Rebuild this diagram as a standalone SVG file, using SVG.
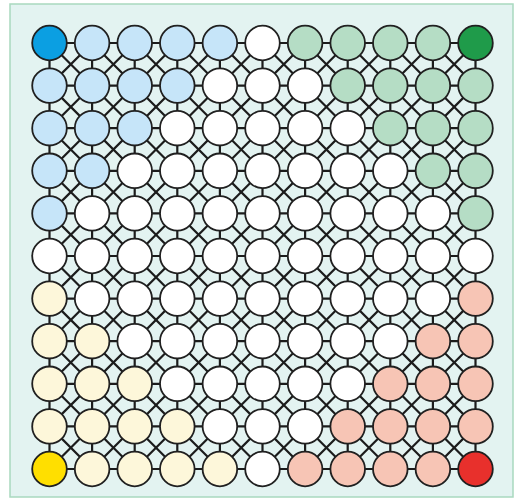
<svg xmlns="http://www.w3.org/2000/svg" width="523" height="504" viewBox="0 0 523 504">
<style>
.frame{fill:#e3f3f1;stroke:#a9d9bf;stroke-width:1.5}
.conn{fill:none;stroke:#1c1c1c;stroke-width:2.2}
circle{stroke:#202020;stroke-width:1.8}
.db{fill:#0b9fe2}.lb{fill:#c6e5f9}.dg{fill:#1f9b4a}.lg{fill:#b5ddc5}
.dy{fill:#ffdf00}.ly{fill:#fdf7da}.dr{fill:#e8302c}.lr{fill:#f7c5b5}.w{fill:#ffffff}
</style>
<rect class="frame" x="10" y="4" width="503" height="493"/>
<g id="connectors" class="conn">
<path d="M49.5 43H475.5M49.5 85.6H475.5M49.5 128.2H475.5M49.5 170.8H475.5M49.5 213.4H475.5M49.5 256H475.5M49.5 298.6H475.5M49.5 341.2H475.5M49.5 383.8H475.5M49.5 426.4H475.5M49.5 469H475.5"/>
<path d="M49.5 43V469M92.1 43V469M134.7 43V469M177.3 43V469M219.9 43V469M262.5 43V469M305.1 43V469M347.7 43V469M390.3 43V469M432.9 43V469M475.5 43V469"/>
<path d="M49.5 43L475.5 469M92.1 43L475.5 426.4M134.7 43L475.5 383.8M177.3 43L475.5 341.2M219.9 43L475.5 298.6M262.5 43L475.5 256M305.1 43L475.5 213.4M347.7 43L475.5 170.8M390.3 43L475.5 128.2M432.9 43L475.5 85.6M49.5 85.6L432.9 469M49.5 128.2L390.3 469M49.5 170.8L347.7 469M49.5 213.4L305.1 469M49.5 256L262.5 469M49.5 298.6L219.9 469M49.5 341.2L177.3 469M49.5 383.8L134.7 469M49.5 426.4L92.1 469"/>
<path d="M92.1 43L49.5 85.6M134.7 43L49.5 128.2M177.3 43L49.5 170.8M219.9 43L49.5 213.4M262.5 43L49.5 256M305.1 43L49.5 298.6M347.7 43L49.5 341.2M390.3 43L49.5 383.8M432.9 43L49.5 426.4M475.5 43L49.5 469M475.5 85.6L92.1 469M475.5 128.2L134.7 469M475.5 170.8L177.3 469M475.5 213.4L219.9 469M475.5 256L262.5 469M475.5 298.6L305.1 469M475.5 341.2L347.7 469M475.5 383.8L390.3 469M475.5 426.4L432.9 469"/>
</g>
<g id="nodes">
<g id="n0-0"><circle class="db" cx="49.5" cy="43" r="17.3"/></g>
<g id="n0-1"><circle class="lb" cx="92.1" cy="43" r="17.3"/></g>
<g id="n0-2"><circle class="lb" cx="134.7" cy="43" r="17.3"/></g>
<g id="n0-3"><circle class="lb" cx="177.3" cy="43" r="17.3"/></g>
<g id="n0-4"><circle class="lb" cx="219.9" cy="43" r="17.3"/></g>
<g id="n0-5"><circle class="w" cx="262.5" cy="43" r="17.3"/></g>
<g id="n0-6"><circle class="lg" cx="305.1" cy="43" r="17.3"/></g>
<g id="n0-7"><circle class="lg" cx="347.7" cy="43" r="17.3"/></g>
<g id="n0-8"><circle class="lg" cx="390.3" cy="43" r="17.3"/></g>
<g id="n0-9"><circle class="lg" cx="432.9" cy="43" r="17.3"/></g>
<g id="n0-10"><circle class="dg" cx="475.5" cy="43" r="17.3"/></g>
<g id="n1-0"><circle class="lb" cx="49.5" cy="85.6" r="17.3"/></g>
<g id="n1-1"><circle class="lb" cx="92.1" cy="85.6" r="17.3"/></g>
<g id="n1-2"><circle class="lb" cx="134.7" cy="85.6" r="17.3"/></g>
<g id="n1-3"><circle class="lb" cx="177.3" cy="85.6" r="17.3"/></g>
<g id="n1-4"><circle class="w" cx="219.9" cy="85.6" r="17.3"/></g>
<g id="n1-5"><circle class="w" cx="262.5" cy="85.6" r="17.3"/></g>
<g id="n1-6"><circle class="w" cx="305.1" cy="85.6" r="17.3"/></g>
<g id="n1-7"><circle class="lg" cx="347.7" cy="85.6" r="17.3"/></g>
<g id="n1-8"><circle class="lg" cx="390.3" cy="85.6" r="17.3"/></g>
<g id="n1-9"><circle class="lg" cx="432.9" cy="85.6" r="17.3"/></g>
<g id="n1-10"><circle class="lg" cx="475.5" cy="85.6" r="17.3"/></g>
<g id="n2-0"><circle class="lb" cx="49.5" cy="128.2" r="17.3"/></g>
<g id="n2-1"><circle class="lb" cx="92.1" cy="128.2" r="17.3"/></g>
<g id="n2-2"><circle class="lb" cx="134.7" cy="128.2" r="17.3"/></g>
<g id="n2-3"><circle class="w" cx="177.3" cy="128.2" r="17.3"/></g>
<g id="n2-4"><circle class="w" cx="219.9" cy="128.2" r="17.3"/></g>
<g id="n2-5"><circle class="w" cx="262.5" cy="128.2" r="17.3"/></g>
<g id="n2-6"><circle class="w" cx="305.1" cy="128.2" r="17.3"/></g>
<g id="n2-7"><circle class="w" cx="347.7" cy="128.2" r="17.3"/></g>
<g id="n2-8"><circle class="lg" cx="390.3" cy="128.2" r="17.3"/></g>
<g id="n2-9"><circle class="lg" cx="432.9" cy="128.2" r="17.3"/></g>
<g id="n2-10"><circle class="lg" cx="475.5" cy="128.2" r="17.3"/></g>
<g id="n3-0"><circle class="lb" cx="49.5" cy="170.8" r="17.3"/></g>
<g id="n3-1"><circle class="lb" cx="92.1" cy="170.8" r="17.3"/></g>
<g id="n3-2"><circle class="w" cx="134.7" cy="170.8" r="17.3"/></g>
<g id="n3-3"><circle class="w" cx="177.3" cy="170.8" r="17.3"/></g>
<g id="n3-4"><circle class="w" cx="219.9" cy="170.8" r="17.3"/></g>
<g id="n3-5"><circle class="w" cx="262.5" cy="170.8" r="17.3"/></g>
<g id="n3-6"><circle class="w" cx="305.1" cy="170.8" r="17.3"/></g>
<g id="n3-7"><circle class="w" cx="347.7" cy="170.8" r="17.3"/></g>
<g id="n3-8"><circle class="w" cx="390.3" cy="170.8" r="17.3"/></g>
<g id="n3-9"><circle class="lg" cx="432.9" cy="170.8" r="17.3"/></g>
<g id="n3-10"><circle class="lg" cx="475.5" cy="170.8" r="17.3"/></g>
<g id="n4-0"><circle class="lb" cx="49.5" cy="213.4" r="17.3"/></g>
<g id="n4-1"><circle class="w" cx="92.1" cy="213.4" r="17.3"/></g>
<g id="n4-2"><circle class="w" cx="134.7" cy="213.4" r="17.3"/></g>
<g id="n4-3"><circle class="w" cx="177.3" cy="213.4" r="17.3"/></g>
<g id="n4-4"><circle class="w" cx="219.9" cy="213.4" r="17.3"/></g>
<g id="n4-5"><circle class="w" cx="262.5" cy="213.4" r="17.3"/></g>
<g id="n4-6"><circle class="w" cx="305.1" cy="213.4" r="17.3"/></g>
<g id="n4-7"><circle class="w" cx="347.7" cy="213.4" r="17.3"/></g>
<g id="n4-8"><circle class="w" cx="390.3" cy="213.4" r="17.3"/></g>
<g id="n4-9"><circle class="w" cx="432.9" cy="213.4" r="17.3"/></g>
<g id="n4-10"><circle class="lg" cx="475.5" cy="213.4" r="17.3"/></g>
<g id="n5-0"><circle class="w" cx="49.5" cy="256" r="17.3"/></g>
<g id="n5-1"><circle class="w" cx="92.1" cy="256" r="17.3"/></g>
<g id="n5-2"><circle class="w" cx="134.7" cy="256" r="17.3"/></g>
<g id="n5-3"><circle class="w" cx="177.3" cy="256" r="17.3"/></g>
<g id="n5-4"><circle class="w" cx="219.9" cy="256" r="17.3"/></g>
<g id="n5-5"><circle class="w" cx="262.5" cy="256" r="17.3"/></g>
<g id="n5-6"><circle class="w" cx="305.1" cy="256" r="17.3"/></g>
<g id="n5-7"><circle class="w" cx="347.7" cy="256" r="17.3"/></g>
<g id="n5-8"><circle class="w" cx="390.3" cy="256" r="17.3"/></g>
<g id="n5-9"><circle class="w" cx="432.9" cy="256" r="17.3"/></g>
<g id="n5-10"><circle class="w" cx="475.5" cy="256" r="17.3"/></g>
<g id="n6-0"><circle class="ly" cx="49.5" cy="298.6" r="17.3"/></g>
<g id="n6-1"><circle class="w" cx="92.1" cy="298.6" r="17.3"/></g>
<g id="n6-2"><circle class="w" cx="134.7" cy="298.6" r="17.3"/></g>
<g id="n6-3"><circle class="w" cx="177.3" cy="298.6" r="17.3"/></g>
<g id="n6-4"><circle class="w" cx="219.9" cy="298.6" r="17.3"/></g>
<g id="n6-5"><circle class="w" cx="262.5" cy="298.6" r="17.3"/></g>
<g id="n6-6"><circle class="w" cx="305.1" cy="298.6" r="17.3"/></g>
<g id="n6-7"><circle class="w" cx="347.7" cy="298.6" r="17.3"/></g>
<g id="n6-8"><circle class="w" cx="390.3" cy="298.6" r="17.3"/></g>
<g id="n6-9"><circle class="w" cx="432.9" cy="298.6" r="17.3"/></g>
<g id="n6-10"><circle class="lr" cx="475.5" cy="298.6" r="17.3"/></g>
<g id="n7-0"><circle class="ly" cx="49.5" cy="341.2" r="17.3"/></g>
<g id="n7-1"><circle class="ly" cx="92.1" cy="341.2" r="17.3"/></g>
<g id="n7-2"><circle class="w" cx="134.7" cy="341.2" r="17.3"/></g>
<g id="n7-3"><circle class="w" cx="177.3" cy="341.2" r="17.3"/></g>
<g id="n7-4"><circle class="w" cx="219.9" cy="341.2" r="17.3"/></g>
<g id="n7-5"><circle class="w" cx="262.5" cy="341.2" r="17.3"/></g>
<g id="n7-6"><circle class="w" cx="305.1" cy="341.2" r="17.3"/></g>
<g id="n7-7"><circle class="w" cx="347.7" cy="341.2" r="17.3"/></g>
<g id="n7-8"><circle class="w" cx="390.3" cy="341.2" r="17.3"/></g>
<g id="n7-9"><circle class="lr" cx="432.9" cy="341.2" r="17.3"/></g>
<g id="n7-10"><circle class="lr" cx="475.5" cy="341.2" r="17.3"/></g>
<g id="n8-0"><circle class="ly" cx="49.5" cy="383.8" r="17.3"/></g>
<g id="n8-1"><circle class="ly" cx="92.1" cy="383.8" r="17.3"/></g>
<g id="n8-2"><circle class="ly" cx="134.7" cy="383.8" r="17.3"/></g>
<g id="n8-3"><circle class="w" cx="177.3" cy="383.8" r="17.3"/></g>
<g id="n8-4"><circle class="w" cx="219.9" cy="383.8" r="17.3"/></g>
<g id="n8-5"><circle class="w" cx="262.5" cy="383.8" r="17.3"/></g>
<g id="n8-6"><circle class="w" cx="305.1" cy="383.8" r="17.3"/></g>
<g id="n8-7"><circle class="w" cx="347.7" cy="383.8" r="17.3"/></g>
<g id="n8-8"><circle class="lr" cx="390.3" cy="383.8" r="17.3"/></g>
<g id="n8-9"><circle class="lr" cx="432.9" cy="383.8" r="17.3"/></g>
<g id="n8-10"><circle class="lr" cx="475.5" cy="383.8" r="17.3"/></g>
<g id="n9-0"><circle class="ly" cx="49.5" cy="426.4" r="17.3"/></g>
<g id="n9-1"><circle class="ly" cx="92.1" cy="426.4" r="17.3"/></g>
<g id="n9-2"><circle class="ly" cx="134.7" cy="426.4" r="17.3"/></g>
<g id="n9-3"><circle class="ly" cx="177.3" cy="426.4" r="17.3"/></g>
<g id="n9-4"><circle class="w" cx="219.9" cy="426.4" r="17.3"/></g>
<g id="n9-5"><circle class="w" cx="262.5" cy="426.4" r="17.3"/></g>
<g id="n9-6"><circle class="w" cx="305.1" cy="426.4" r="17.3"/></g>
<g id="n9-7"><circle class="lr" cx="347.7" cy="426.4" r="17.3"/></g>
<g id="n9-8"><circle class="lr" cx="390.3" cy="426.4" r="17.3"/></g>
<g id="n9-9"><circle class="lr" cx="432.9" cy="426.4" r="17.3"/></g>
<g id="n9-10"><circle class="lr" cx="475.5" cy="426.4" r="17.3"/></g>
<g id="n10-0"><circle class="dy" cx="49.5" cy="469" r="17.3"/></g>
<g id="n10-1"><circle class="ly" cx="92.1" cy="469" r="17.3"/></g>
<g id="n10-2"><circle class="ly" cx="134.7" cy="469" r="17.3"/></g>
<g id="n10-3"><circle class="ly" cx="177.3" cy="469" r="17.3"/></g>
<g id="n10-4"><circle class="ly" cx="219.9" cy="469" r="17.3"/></g>
<g id="n10-5"><circle class="w" cx="262.5" cy="469" r="17.3"/></g>
<g id="n10-6"><circle class="lr" cx="305.1" cy="469" r="17.3"/></g>
<g id="n10-7"><circle class="lr" cx="347.7" cy="469" r="17.3"/></g>
<g id="n10-8"><circle class="lr" cx="390.3" cy="469" r="17.3"/></g>
<g id="n10-9"><circle class="lr" cx="432.9" cy="469" r="17.3"/></g>
<g id="n10-10"><circle class="dr" cx="475.5" cy="469" r="17.3"/></g>
</g>
</svg>
